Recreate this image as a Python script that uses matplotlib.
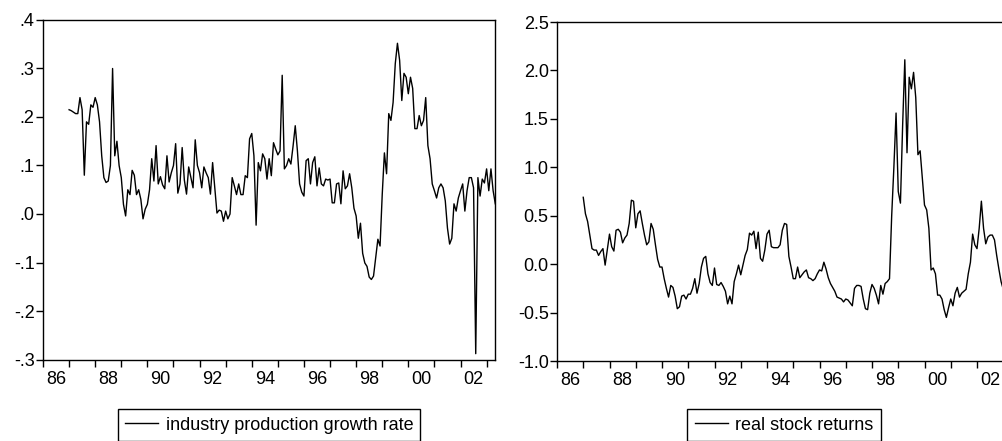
import numpy as np
import matplotlib
matplotlib.use("Agg")
import matplotlib.pyplot as plt
from matplotlib.ticker import FixedLocator, FixedFormatter, NullFormatter

plt.rcParams['font.family'] = ['Liberation Sans', 'DejaVu Sans']

# monthly data starting 1987:01
start_year = 1987
ip_growth = [
    .215, .213, .21, .207, .207, .24, .215, .08, .19, .185, .225, .22,
    .24, .225, .19, .12, .075, .065, .068, .1, .30, .12, .15, .1,
    .075, .02, -.004, .05, .04, .09, .08, .04, .05, .03, -.01, .01,
    .02, .05, .114, .068, .141, .062, .077, .06, .052, .12, .066, .085,
    .1, .145, .043, .062, .137, .07, .041, .097, .075, .054, .153, .1,
    .085, .054, .097, .085, .075, .041, .106, .054, .002, .008, .006, -.015,
    .006, -.01, .0, .075, .058, .04, .062, .04, .04, .079, .075, .155,
    .166, .12, -.023, .106, .089, .124, .114, .072, .114, .079, .147, .134,
    .122, .13, .286, .093, .1, .114, .103, .14, .182, .13, .062, .045,
    .037, .11, .114, .062, .106, .118, .058, .095, .062, .058, .072, .07,
    .072, .023, .023, .062, .064, .021, .089, .052, .058, .083, .054, .012,
    -.004, -.05, -.019, -.081, -.101, -.108, -.13, -.135, -.128, -.09, -.052, -.066,
    .04, .126, .083, .207, .193, .23, .31, .352, .317, .234, .29, .282,
    .248, .282, .259, .176, .176, .203, .182, .193, .24, .141, .114, .062,
    .048, .033, .054, .062, .054, .027, -.029, -.062, -.05, .021, .006, .033,
    .048, .062, .006, .048, .075, .075, .054, -.288, .075, .037, .072, .064,
    .093, .048, .093, .048, .021,
]
stock_returns = [
    .69, .52, .44, .30, .16, .145, .145, .09, .13, .16, -.01, .15,
    .31, .18, .135, .35, .36, .33, .22, .27, .30, .42, .66, .65,
    .375, .52, .55, .42, .30, .2, .23, .42, .36, .2, .05, -.03,
    -.03, -.15, -.25, -.34, -.22, -.24, -.33, -.46, -.44, -.33, -.32, -.36,
    -.31, -.31, -.25, -.15, -.30, -.2, -.03, .06, .08, -.1, -.19, -.22,
    -.04, -.21, -.22, -.19, -.23, -.28, -.41, -.33, -.41, -.18, -.10, -.01,
    -.11, -.01, .09, .15, .32, .30, .34, .16, .33, .06, .03, .145,
    .31, .35, .18, .17, .17, .17, .2, .35, .42, .41, .08, -.03,
    -.15, -.15, -.03, -.14, -.11, -.08, -.06, -.14, -.15, -.17, -.15, -.1,
    -.06, -.07, .02, -.05, -.14, -.2, -.24, -.28, -.34, -.35, -.36, -.39,
    -.36, -.37, -.40, -.43, -.25, -.22, -.22, -.23, -.36, -.46, -.47, -.3,
    -.21, -.25, -.32, -.41, -.22, -.31, -.2, -.18, -.15, .5, 1.0, 1.56,
    .75, .63, 1.43, 2.11, 1.15, 1.93, 1.81, 1.98, 1.72, 1.13, 1.17, .89,
    .61, .56, .37, -.06, -.04, -.1, -.32, -.32, -.36, -.47, -.55, -.45,
    -.36, -.43, -.30, -.24, -.34, -.30, -.28, -.26, -.1, .02, .31, .2,
    .16, .37, .65, .37, .21, .28, .30, .30, .25, .09, -.05, -.18,
    -.26,
]
year_labels = ['86', '88', '90', '92', '94', '96', '98', '00', '02']
label_years = [1986, 1988, 1990, 1992, 1994, 1996, 1998, 2000, 2002]
left_yticks = [-.3, -.2, -.1, .0, .1, .2, .3, .4]
left_ylabels = ['-.3', '-.2', '-.1', '.0', '.1', '.2', '.3', '.4']
right_yticks = [-1.0, -0.5, 0.0, 0.5, 1.0, 1.5, 2.0, 2.5]
right_ylabels = ['-1.0', '-0.5', '0.0', '0.5', '1.0', '1.5', '2.0', '2.5']
legend_left = 'industry production growth rate'
legend_right = 'real stock returns'

W, H = 1003, 441
fig = plt.figure(figsize=(W / 100, H / 100), dpi=100)
FS = 13


def style(ax, yticks, ylabels):
    ax.set_xlim(1986, 2003 + 4 / 12)
    ax.set_ylim(yticks[0], yticks[-1])
    ax.xaxis.set_major_locator(FixedLocator(np.arange(1986, 2004)))
    ax.xaxis.set_major_formatter(NullFormatter())
    ax.xaxis.set_minor_locator(FixedLocator([y + 0.5 for y in label_years]))
    ax.xaxis.set_minor_formatter(FixedFormatter(year_labels))
    ax.tick_params(axis='x', which='major', direction='out', length=5, width=1, top=False, color='black')
    ax.tick_params(axis='x', which='minor', length=0, pad=8, labelsize=FS)
    ax.set_yticks(yticks)
    ax.set_yticklabels(ylabels)
    ax.tick_params(axis='y', direction='out', length=5, width=1, pad=1, labelsize=FS, right=False)
    for s in ax.spines.values():
        s.set_linewidth(1.0)
        s.set_color('black')


def make_x(vals):
    return start_year + np.arange(len(vals)) / 12.0


ax1 = fig.add_axes([43 / W, (H - 359.5) / H, 452.3 / W, (359.5 - 20) / H])
ax1.plot(make_x(ip_growth), ip_growth, color='black', lw=1.0, label=legend_left)
style(ax1, left_yticks, left_ylabels)

ax2 = fig.add_axes([557 / W, (H - 361) / H, 455 / W, (361 - 22) / H])
ax2.plot(make_x(stock_returns), stock_returns, color='black', lw=1.0, label=legend_right)
style(ax2, right_yticks, right_ylabels)

for ax, cx in ((ax1, 269 / W), (ax2, 784 / W)):
    leg = ax.legend(loc='center', bbox_to_anchor=(cx, (H - 425) / H),
                    bbox_transform=fig.transFigure, fontsize=FS, frameon=True,
                    fancybox=False, handlelength=1.85, handletextpad=0.4,
                    borderpad=0.4, borderaxespad=0)
    fr = leg.get_frame()
    fr.set_edgecolor('black')
    fr.set_linewidth(1.0)
    fr.set_facecolor('white')
    fr.set_alpha(1)

fig.savefig('out.png', dpi=100)
